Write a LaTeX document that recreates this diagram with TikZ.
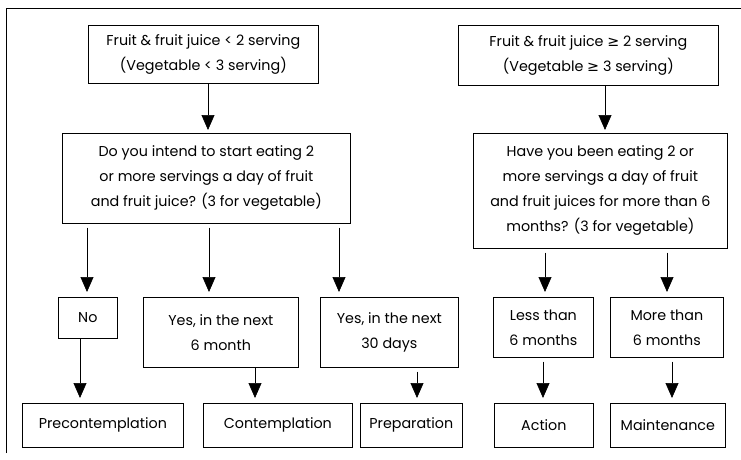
\documentclass[tikz,border=0pt]{standalone}
\usepackage{fontspec}
\setmainfont{Poppins}
\newfontfamily\symfont{DejaVu Sans}
\usetikzlibrary{arrows.meta}
\tikzset{
  box/.style={draw, line width=0.7pt, inner sep=1pt, align=center, anchor=north west,
    font=\fontsize{14.3}{25}\selectfont},
  arr/.style={line width=0.7pt, -{Triangle[width=13pt,length=15pt]}},
  frame/.style={line width=0.7pt}
}
\begin{document}
\begin{tikzpicture}[x=1pt,y=-1pt]
\useasboundingbox (0,0) rectangle (741,459);
\coordinate (fa) at (6,8);
\coordinate (fb) at (741,8);
\coordinate (fc) at (6,453);
\draw[frame] (fc) -- (fa) -- (fb);
% left branch
\node[box, minimum width=230pt, minimum height=58pt] (b1) at (88,25)
  {Fruit \& fruit juice < 2 serving\\(Vegetable < 3 serving)};
\node[box, minimum width=288pt, minimum height=90pt] (q1) at (62,133)
  {Do you intend to start eating 2\\or more servings a day of fruit\\and fruit juice? (3 for vegetable)};
% right branch
\node[box, minimum width=260pt, minimum height=60pt] (b2) at (458,25)
  {Fruit \& fruit juice {\symfont ≥} 2 serving\\(Vegetable {\symfont ≥} 3 serving)};
\node[box, minimum width=254pt, minimum height=115pt] (q2) at (473,133)
  {Have you been eating 2 or\\more servings a day of fruit\\and fruit juices for more than 6\\months? (3 for vegetable)};
% answers
\node[box, minimum width=59pt, minimum height=41pt] (no) at (58,297) {No};
\node[box, minimum width=155pt, minimum height=70pt] (y6) at (143,297) {Yes, in the next\\6 month};
\node[box, minimum width=138pt, minimum height=70pt] (y30) at (320,297) {Yes, in the next\\30 days};
\node[box, minimum width=100pt, minimum height=60pt] (lt) at (493,297) {Less than\\6 months};
\node[box, minimum width=113pt, minimum height=60pt] (mt) at (610,297) {More than\\6 months};
% stages
\node[box, minimum width=161pt, minimum height=44pt] (pc) at (22,403) {Precontemplation};
\node[box, minimum width=149pt, minimum height=44pt] (ct) at (203,403) {Contemplation};
\node[box, minimum width=102pt, minimum height=44pt] (pr) at (360,403) {Preparation};
\node[box, minimum width=99pt, minimum height=44pt] (ac) at (494,403) {Action};
\node[box, minimum width=115pt, minimum height=44pt] (mn) at (610,403) {Maintenance};
% arrow x positions
\coordinate (x0) at (208,0);
\coordinate (x1) at (605,0);
\coordinate (a1) at (87,0);
\coordinate (a2) at (209,0);
\coordinate (a3) at (339,0);
\coordinate (a4) at (545,0);
\coordinate (a5) at (667,0);
\coordinate (s1) at (80,0);
\coordinate (s2) at (255,0);
\coordinate (s3) at (417,0);
\coordinate (s4) at (543,0);
\coordinate (s5) at (672,0);
\draw[arr, shorten >=3pt] (b1.south -| x0) -- (q1.north -| x0);
\draw[arr, shorten >=3pt] (b2.south -| x1) -- (q2.north -| x1);
\draw[arr, shorten >=5pt, shorten <=4pt] (q1.south -| a1) -- (no.north -| a1);
\draw[arr, shorten >=5pt, shorten <=4pt] (q1.south -| a2) -- (y6.north -| a2);
\draw[arr, shorten >=5pt, shorten <=4pt] (q1.south -| a3) -- (y30.north -| a3);
\draw[arr, shorten >=5pt, shorten <=4pt] (q2.south -| a4) -- (lt.north -| a4);
\draw[arr, shorten >=5pt, shorten <=4pt] (q2.south -| a5) -- (mt.north -| a5);
\draw[arr, shorten >=5pt] (no.south -| s1) -- (pc.north -| s1);
\draw[arr, shorten >=5pt] (y6.south -| s2) -- (ct.north -| s2);
\draw[arr, shorten >=5pt, shorten <=4pt] (y30.south -| s3) -- (pr.north -| s3);
\draw[arr, shorten >=5pt, shorten <=4pt] (lt.south -| s4) -- (ac.north -| s4);
\draw[arr, shorten >=5pt, shorten <=4pt] (mt.south -| s5) -- (mn.north -| s5);
\end{tikzpicture}
\end{document}
